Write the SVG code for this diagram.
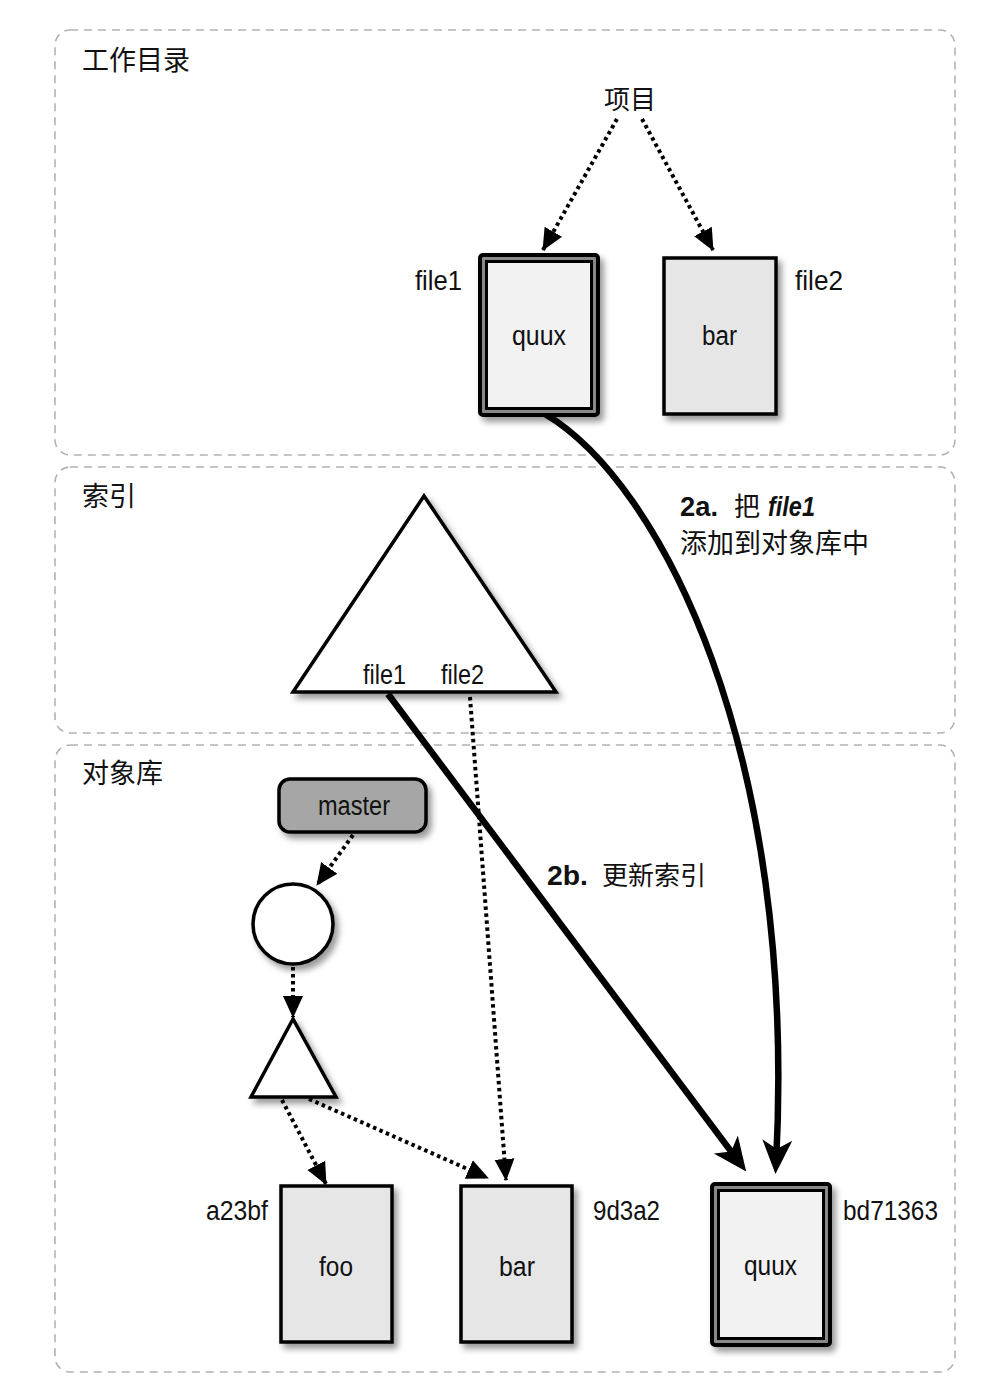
<svg xmlns="http://www.w3.org/2000/svg" width="992" height="1398" viewBox="0 0 992 1398">
<style>
.sec{fill:none;stroke:#b3b3b3;stroke-width:1.6;stroke-dasharray:8 6}
.cjk{font-family:"Noto Sans CJK SC","Liberation Sans",sans-serif;fill:#111}
.lbl{font-family:"Liberation Sans","Noto Sans",sans-serif;fill:#111;font-size:27px}
.box{fill:#e6e6e6;stroke:#000;stroke-width:3.5}
.dot{fill:none;stroke:#000;stroke-width:4;stroke-dasharray:3.5 3.5}
.thick{fill:none;stroke:#000;stroke-width:6.5}
.shape{fill:#fff;stroke:#000;stroke-width:3.5;stroke-linejoin:miter}
</style>
<defs>
<filter id="sh" x="-20%" y="-20%" width="150%" height="150%">
<feDropShadow dx="4" dy="5" stdDeviation="3" flood-color="#000" flood-opacity="0.4"/>
</filter>
<marker id="tri" viewBox="0 0 22 22" markerWidth="22" markerHeight="22" refX="21" refY="11" orient="auto" markerUnits="userSpaceOnUse">
<path d="M0,1 L22,11 L0,21 z" fill="#000"/>
</marker>
<marker id="barb" viewBox="0 0 34 32" markerWidth="34" markerHeight="32" refX="24" refY="16" orient="auto" markerUnits="userSpaceOnUse">
<path d="M0,1 L34,16 L0,31 L9,16 z" fill="#000"/>
</marker>
</defs>
<rect width="992" height="1398" fill="#fff"/>

<g id="sections">
<rect class="sec" x="55" y="30" width="900" height="425" rx="15"/>
<rect class="sec" x="55" y="467" width="900" height="266" rx="15"/>
<rect class="sec" x="55" y="745" width="900" height="627" rx="15"/>
<text class="cjk" x="82" y="70" font-size="27">工作目录</text>
<text class="cjk" x="82" y="506" font-size="27">索引</text>
<text class="cjk" x="82" y="783" font-size="27">对象库</text>
</g>

<g id="connectors">
<line class="dot" x1="617" y1="119" x2="543" y2="250" marker-end="url(#tri)"/>
<line class="dot" x1="642" y1="119" x2="713" y2="250" marker-end="url(#tri)"/>
<path class="thick" d="M545,414 C660,482 798,750 776,1164" marker-end="url(#barb)"/>
<line class="thick" x1="388" y1="694" x2="740.2" y2="1163.6" marker-end="url(#barb)"/>
<line class="dot" x1="470" y1="697" x2="506" y2="1180" marker-end="url(#tri)"/>
<line class="dot" x1="353" y1="835" x2="317" y2="885" marker-end="url(#tri)"/>
<line class="dot" x1="293" y1="967" x2="293" y2="1017" marker-end="url(#tri)"/>
<line class="dot" x1="282" y1="1100" x2="326" y2="1184" marker-end="url(#tri)"/>
<line class="dot" x1="309" y1="1099" x2="488" y2="1178" marker-end="url(#tri)"/>
<text font-family="Liberation Sans,Noto Sans,sans-serif" font-size="28" fill="#111" y="516"><tspan x="680" font-weight="bold" textLength="38" lengthAdjust="spacingAndGlyphs">2a.</tspan></text>
<text class="cjk" x="734" y="516" font-size="26">把</text>
<text font-family="Liberation Sans,Noto Sans,sans-serif" font-size="27" fill="#111" y="516" font-weight="bold" font-style="italic"><tspan x="768" textLength="47" lengthAdjust="spacingAndGlyphs">file1</tspan></text>
<text class="cjk" x="680" y="553" font-size="27">添加到对象库中</text>
<text font-family="Liberation Sans,Noto Sans,sans-serif" font-size="28" fill="#111" y="885" font-weight="bold"><tspan x="547" textLength="41" lengthAdjust="spacingAndGlyphs">2b.</tspan></text>
<text class="cjk" x="602" y="885" font-size="26">更新索引</text>
</g>

<g id="project">
<text class="cjk" x="630" y="109" font-size="26" text-anchor="middle">项目</text>
</g>

<g id="wd-file1">
<rect x="480" y="255" width="118" height="160" rx="3" fill="#888" stroke="#000" stroke-width="4" filter="url(#sh)"/>
<rect x="486.5" y="261.5" width="105" height="147" fill="#f2f2f2" stroke="#000" stroke-width="3"/>
<text class="lbl" x="512" y="345" textLength="54" lengthAdjust="spacingAndGlyphs">quux</text>
<text class="lbl" x="415" y="290" textLength="47" lengthAdjust="spacingAndGlyphs">file1</text>
</g>

<g id="wd-file2">
<rect class="box" x="664" y="258" width="112" height="156" filter="url(#sh)"/>
<text class="lbl" x="702" y="345" textLength="35" lengthAdjust="spacingAndGlyphs">bar</text>
<text class="lbl" x="795" y="290" textLength="48" lengthAdjust="spacingAndGlyphs">file2</text>
</g>

<g id="index-tree">
<polygon class="shape" points="424,496 293,692 556,692" filter="url(#sh)"/>
<text class="lbl" x="363" y="684" font-size="25" textLength="43" lengthAdjust="spacingAndGlyphs">file1</text>
<text class="lbl" x="441" y="684" font-size="25" textLength="43" lengthAdjust="spacingAndGlyphs">file2</text>
</g>

<g id="master">
<rect x="279" y="779" width="147" height="53" rx="11" fill="#a6a6a6" stroke="#000" stroke-width="3.5" filter="url(#sh)"/>
<text class="lbl" x="318" y="815" font-size="25" textLength="72" lengthAdjust="spacingAndGlyphs">master</text>
</g>

<g id="commit">
<circle class="shape" cx="293" cy="924" r="40" filter="url(#sh)"/>
</g>

<g id="tree">
<polygon class="shape" points="293,1019 251,1097 336,1097" filter="url(#sh)"/>
</g>

<g id="blob-foo">
<rect class="box" x="281" y="1186" width="111" height="156" filter="url(#sh)"/>
<text class="lbl" x="319" y="1276" textLength="34" lengthAdjust="spacingAndGlyphs">foo</text>
<text class="lbl" x="206" y="1220" textLength="62" lengthAdjust="spacingAndGlyphs">a23bf</text>
</g>

<g id="blob-bar">
<rect class="box" x="461" y="1186" width="111" height="156" filter="url(#sh)"/>
<text class="lbl" x="499" y="1276" textLength="36" lengthAdjust="spacingAndGlyphs">bar</text>
<text class="lbl" x="593" y="1220" textLength="67" lengthAdjust="spacingAndGlyphs">9d3a2</text>
</g>

<g id="blob-quux">
<rect x="712" y="1184" width="118" height="161" rx="3" fill="#888" stroke="#000" stroke-width="4" filter="url(#sh)"/>
<rect x="718.5" y="1190.5" width="105" height="148" fill="#f2f2f2" stroke="#000" stroke-width="3"/>
<text class="lbl" x="744" y="1275" textLength="53" lengthAdjust="spacingAndGlyphs">quux</text>
<text class="lbl" x="843" y="1220" textLength="95" lengthAdjust="spacingAndGlyphs">bd71363</text>
</g>
</svg>
